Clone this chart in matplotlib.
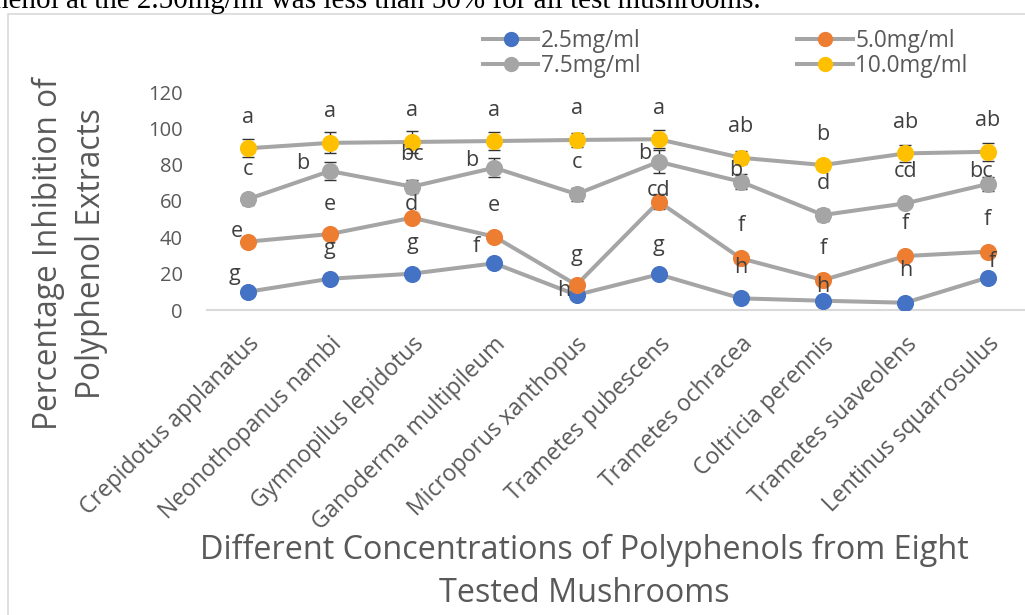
import matplotlib
matplotlib.use("Agg")
import matplotlib.pyplot as plt
import matplotlib.transforms as mtransforms
from matplotlib.lines import Line2D
from matplotlib.patches import Rectangle

plt.rcParams['font.family'] = ['Open Sans', 'DejaVu Sans']

# ---------------- data ----------------
mushrooms = ["Crepidotus applanatus", "Neonothopanus nambi", "Gymnopilus lepidotus",
             "Ganoderma multipileum", "Microporus xanthopus", "Trametes pubescens",
             "Trametes ochracea", "Coltricia perennis", "Trametes suaveolens",
             "Lentinus squarrosulus"]
series_names = ["2.5mg/ml", "5.0mg/ml", "7.5mg/ml", "10.0mg/ml"]

inh_25 = [10.0, 17.2, 20.0, 25.7, 8.3, 19.6, 6.4, 5.1, 4.0, 17.8]
inh_50 = [37.6, 41.8, 50.8, 40.4, 13.8, 59.6, 28.4, 16.5, 29.7, 32.1]
inh_75 = [61.0, 76.5, 67.9, 78.3, 63.8, 81.6, 70.6, 52.3, 58.7, 69.3]
inh_100 = [89.0, 92.0, 92.5, 93.0, 93.6, 94.0, 83.8, 79.8, 86.2, 87.1]

err_25 = [1.0, 1.2, 1.0, 1.5, 0.8, 1.2, 0.8, 0.8, 0.6, 1.5]
err_50 = [1.5, 1.5, 2.0, 1.5, 1.5, 4.0, 1.5, 1.5, 1.5, 1.5]
err_75 = [3.0, 4.9, 3.4, 5.3, 3.6, 6.4, 4.1, 3.5, 1.5, 3.7]
err_100 = [5.0, 5.8, 6.3, 5.2, 4.1, 5.0, 3.7, 1.5, 4.9, 5.0]

letters_25 = ["g", "g", "g", "f", "h", "g", "h", "h", "h", "f"]
letters_50 = ["e", "e", "d", "e", "g", "cd", "f", "f", "f", "f"]
letters_75 = ["c", "b", "bc", "b", "c", "b", "b", "d", "cd", "bc"]
letters_100 = ["a", "a", "a", "a", "a", "a", "ab", "b", "ab", "ab"]

y_ticks = [0, 20, 40, 60, 80, 100, 120]

# ---------------- layout / style ----------------
# label offsets (pixels) relative to each marker
off_25 = [(-13, 17), (0, 30), (0, 30), (-18, 17), (-13, 4), (0, 29), (0, 31), (0, 14), (0, 32), (5, 16)]
off_50 = [(-11, 10), (0, 30), (-1, 13), (0, 31), (0, 29), (0, 11), (0, 33), (0, 32), (0, 33), (0, 32)]
off_75 = [(0, 30), (-27, 8), (0, 32), (-23, 7), (0, 32), (-14, 8), (-5, 11), (0, 31), (0, 32), (-7, 13)]
off_100 = [(0, 31)] * 10

marker_colors = ["#4472C4", "#ED7D31", "#A5A5A5", "#FFC000"]
line_color = "#A5A5A5"
text_color = "#595959"
label_color = "#404040"

W, H, DPI = 1025, 615, 100
fig = plt.figure(figsize=(W / DPI, H / DPI), dpi=DPI)

ax_left, ax_right, ax_top, ax_bottom = 206.6, 1028.6, 92.0, 310.0
ax = fig.add_axes([ax_left / W, 1 - ax_bottom / H, (ax_right - ax_left) / W, (ax_bottom - ax_top) / H])

x = list(range(len(mushrooms)))
all_vals = [inh_25, inh_50, inh_75, inh_100]
all_errs = [err_25, err_50, err_75, err_100]
all_letters = [letters_25, letters_50, letters_75, letters_100]
all_offs = [off_25, off_50, off_75, off_100]

for k, (vals, errs) in enumerate(zip(all_vals, all_errs)):
    z = 3 + k * 3
    ax.errorbar(x, vals, yerr=errs, fmt="none", ecolor="#333333", elinewidth=1.0,
                capsize=4.6, capthick=1.0, zorder=z)
    ax.plot(x, vals, color=line_color, lw=2.9, marker="o", markersize=11.3,
            markerfacecolor=marker_colors[k], markeredgecolor=marker_colors[k],
            zorder=z + 1, solid_capstyle="round")

for k in range(4):
    for i in x:
        ax.annotate(all_letters[k][i], xy=(i, all_vals[k][i]), xytext=all_offs[k][i],
                    textcoords="offset pixels", ha="center", va="center",
                    fontsize=15.5, color=label_color, zorder=20)

ax.set_xlim(-0.5, len(mushrooms) - 0.5)
ax.set_ylim(0, 120)
ax.set_yticks(y_ticks)
ax.set_yticklabels([str(v) for v in y_ticks], fontsize=14.5, color=text_color)
ax.tick_params(axis="y", length=0, pad=17)
ax.set_xticks(x)
ax.set_xticklabels(mushrooms, rotation=45, ha="right", va="center", rotation_mode="anchor",
                   fontsize=16.5, color=text_color)
ax.tick_params(axis="x", length=0, pad=22)
shift = mtransforms.ScaledTranslation(8 / DPI, 0, fig.dpi_scale_trans)
for lab in ax.get_xticklabels():
    lab.set_transform(lab.get_transform() + shift)

for s in ["left", "right", "top"]:
    ax.spines[s].set_visible(False)
ax.spines["bottom"].set_color("#D9D9D9")
ax.spines["bottom"].set_linewidth(1.5)
ax.set_facecolor("none")

# legend
handles = [Line2D([0], [0], color=line_color, lw=2.9, marker="o", markersize=10,
                  markerfacecolor=c, markeredgecolor=c) for c in marker_colors]
order = [0, 2, 1, 3]
fig.legend([handles[i] for i in order], [series_names[i] for i in order], ncol=2,
           loc="upper left", bbox_to_anchor=(483 / W, 1 - 29 / H), frameon=False,
           fontsize=16.3, handlelength=2.45, handletextpad=0.12, columnspacing=6.9,
           labelspacing=0.05, borderpad=0, borderaxespad=0, labelcolor=text_color)

# axis titles
fig.text(70 / W, 1 - 254 / H, "Percentage Inhibition of\nPolyphenol Extracts", rotation=90,
         ha="center", va="center", fontsize=22.8, color=text_color, multialignment="center",
         linespacing=1.42)
fig.text(584 / W, 1 - 572 / H, "Different Concentrations of Polyphenols from Eight\nTested Mushrooms",
         ha="center", va="center", fontsize=23.3, color=text_color, multialignment="center",
         linespacing=1.4)

# chart area border
fig.add_artist(Rectangle((8.3 / W, -0.1), 1.2, 1 - 14.3 / H + 0.1, transform=fig.transFigure,
                         fill=False, edgecolor="#D9D9D9", lw=1.2))

# clipped caption text from the page above
fig.text(-6 / W, 1 - 7.5 / H, "henol at the 2.50mg/ml was less than 50% for all test mushrooms.",
         family=["Liberation Serif", "DejaVu Serif"], fontsize=21, color="black", va="baseline")

fig.savefig("out.png", dpi=DPI)
